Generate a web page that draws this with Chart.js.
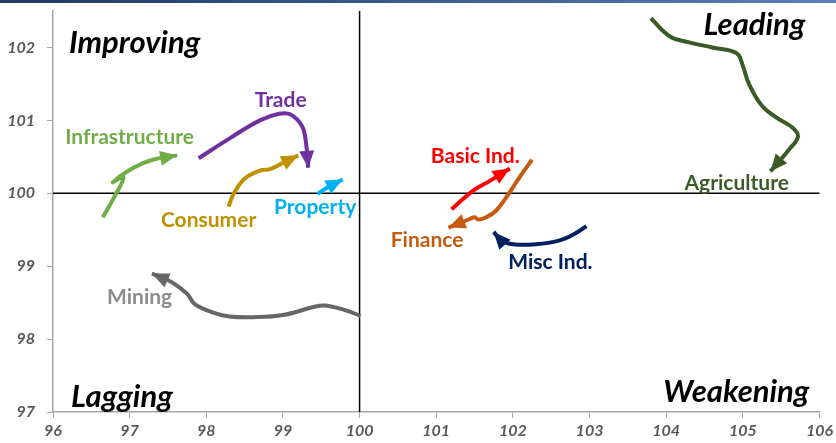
<!DOCTYPE html>
<html>
<head>
<meta charset="utf-8">
<script src="https://cdn.jsdelivr.net/npm/chart.js@4.4.0/dist/chart.umd.min.js"></script>
<style>
  html, body { margin: 0; padding: 0; background: #fff; }
  #wrap { width: 836px; height: 443px; position: relative; }
</style>
</head>
<body>
<div id="wrap"><canvas id="rrgChart"></canvas></div>
<script>
// sector names and colours
var sectors = ["Infrastructure", "Trade", "Consumer", "Property", "Basic Ind.", "Finance", "Misc Ind.", "Agriculture", "Mining"];
var sector_colors = ["#70AD47", "#7030A0", "#BF9000", "#00B0F0", "#FF0000", "#C55A11", "#002060", "#3B5B26", "#666666"];
var label_colors = ["#70AD47", "#7030A0", "#BF9000", "#00B0F0", "#FF0000", "#C55A11", "#002060", "#3B5B26", "#8C8C8C"];

// x = relative strength, y = momentum (tail -> head)
var infra_x = [96.65, 96.8, 96.92, 96.78, 97.05, 97.3, 97.62];
var infra_y = [99.67, 99.95, 100.22, 100.15, 100.35, 100.46, 100.52];
var trade_x = [97.9, 98.3, 98.7, 98.95, 99.1, 99.25, 99.3, 99.33];
var trade_y = [100.48, 100.75, 101.0, 101.09, 101.08, 100.92, 100.7, 100.35];
var consumer_x = [98.29, 98.36, 98.5, 98.7, 98.83, 98.97, 99.2];
var consumer_y = [99.82, 100.0, 100.2, 100.31, 100.33, 100.4, 100.52];
var property_x = [99.45, 99.58, 99.65, 99.78];
var property_y = [99.99, 100.08, 100.12, 100.19];
var basic_x = [101.2, 101.35, 101.5, 101.7, 101.96];
var basic_y = [99.78, 99.92, 100.05, 100.17, 100.34];
var finance_x = [102.25, 102.1, 101.95, 101.78, 101.63, 101.55, 101.5, 101.4, 101.16];
var finance_y = [100.46, 100.24, 100.0, 99.76, 99.66, 99.64, 99.67, 99.63, 99.53];
var misc_x = [102.96, 102.8, 102.6, 102.3, 102.0, 101.85, 101.75];
var misc_y = [99.55, 99.44, 99.35, 99.3, 99.3, 99.35, 99.47];
var agri_x = [103.8, 104.05, 104.3, 104.6, 104.92, 105.0, 105.08, 105.25, 105.45, 105.65, 105.72, 105.62, 105.36];
var agri_y = [102.4, 102.15, 102.07, 102.0, 101.92, 101.75, 101.5, 101.2, 101.03, 100.9, 100.78, 100.62, 100.3];
var mining_x = [100.01, 99.8, 99.55, 99.4, 99.0, 98.6, 98.3, 98.1, 97.85, 97.75, 97.55, 97.29];
var mining_y = [98.32, 98.4, 98.46, 98.44, 98.33, 98.3, 98.31, 98.36, 98.48, 98.62, 98.78, 98.9];

var all_x = [infra_x, trade_x, consumer_x, property_x, basic_x, finance_x, misc_x, agri_x, mining_x];
var all_y = [infra_y, trade_y, consumer_y, property_y, basic_y, finance_y, misc_y, agri_y, mining_y];

var x_ticks = [96, 97, 98, 99, 100, 101, 102, 103, 104, 105, 106];
var y_ticks = [97, 98, 99, 100, 101, 102];
var quadrants = ["Improving", "Leading", "Lagging", "Weakening"];

// where each sector name sits (data coords)
var label_pos = [[97.0, 100.77], [98.97, 101.28], [98.03, 99.63], [99.42, 99.81], [101.51, 100.51], [100.88, 99.36], [102.49, 99.06], [104.92, 100.14], [97.13, 98.58]];

var FONT = "Lato, 'Open Sans', sans-serif";

function build_points(xs, ys){
  var pts = [];
  for(var i = 0; i < xs.length; i++){
    pts.push({x: xs[i], y: ys[i]});
  }
  return pts;
}

var datasets = [];
for(var s = 0; s < sectors.length; s++){
  datasets.push({
    label: sectors[s],
    data: build_points(all_x[s], all_y[s]),
    showLine: true,
    borderColor: sector_colors[s],
    backgroundColor: sector_colors[s],
    borderWidth: 4,
    borderCapStyle: "butt",
    borderJoinStyle: "round",
    pointRadius: 0,
    pointHoverRadius: 0,
    tension: 0.4
  });
}

var rrgPlugin = {
  id: "rrg",
  beforeDraw: function(chart){
    var ctx = chart.ctx;
    var g = ctx.createLinearGradient(0, 0, chart.width, 0);
    g.addColorStop(0, "#1F3864");
    g.addColorStop(1, "#5B7FB5");
    ctx.save();
    ctx.fillStyle = g;
    ctx.fillRect(0, 0, chart.width, 3);
    ctx.restore();
  },
  beforeDatasetsDraw: function(chart){
    var ctx = chart.ctx;
    var area = chart.chartArea;
    var xs = chart.scales.x, ys = chart.scales.y;
    var cx = xs.getPixelForValue(100);
    var cy = ys.getPixelForValue(100);
    ctx.save();
    ctx.strokeStyle = "#000";
    ctx.lineWidth = 1.5;
    ctx.beginPath();
    ctx.moveTo(cx, area.top);
    ctx.lineTo(cx, area.bottom);
    ctx.moveTo(area.left, cy);
    ctx.lineTo(area.right, cy);
    ctx.stroke();

    ctx.fillStyle = "#000";
    ctx.font = "italic bold 31px " + FONT;
    ctx.textBaseline = "middle";
    ctx.textAlign = "left";
    ctx.fillText(quadrants[0], area.left + 16, area.top + 32);
    ctx.fillText(quadrants[2], area.left + 18, area.bottom - 15);
    ctx.textAlign = "right";
    ctx.fillText(quadrants[1], area.right - 14, area.top + 14);
    ctx.fillText(quadrants[3], area.right - 10, area.bottom - 20);
    ctx.restore();
  },
  afterDatasetsDraw: function(chart){
    var ctx = chart.ctx;
    var xs = chart.scales.x, ys = chart.scales.y;
    ctx.save();
    for(var i = 0; i < chart.data.datasets.length; i++){
      var meta = chart.getDatasetMeta(i);
      var pts = meta.data;
      var tip = pts[pts.length - 1];
      var prev = pts[pts.length - 2];
      var fx = prev.x, fy = prev.y;
      if(tip.cp1x !== undefined && Math.abs(tip.cp1x - tip.x) + Math.abs(tip.cp1y - tip.y) > 2){
        fx = tip.cp1x; fy = tip.cp1y;
      }
      var ang = Math.atan2(tip.y - fy, tip.x - fx);
      var len = 17, half = 7.5;
      var bx = tip.x - len * Math.cos(ang), by = tip.y - len * Math.sin(ang);
      ctx.fillStyle = sector_colors[i];
      ctx.beginPath();
      ctx.moveTo(tip.x, tip.y);
      ctx.lineTo(bx + half * Math.sin(ang), by - half * Math.cos(ang));
      ctx.lineTo(bx - half * Math.sin(ang), by + half * Math.cos(ang));
      ctx.closePath();
      ctx.fill();
    }

    ctx.font = "bold 21px " + FONT;
    ctx.textAlign = "center";
    ctx.textBaseline = "middle";
    for(var j = 0; j < sectors.length; j++){
      ctx.fillStyle = label_colors[j];
      ctx.fillText(sectors[j], xs.getPixelForValue(label_pos[j][0]), ys.getPixelForValue(label_pos[j][1]));
    }
    ctx.restore();
  }
};

var ctx_rrg = document.getElementById("rrgChart").getContext("2d");
var chartRrg = new Chart(ctx_rrg, {
  type: "scatter",
  data: { datasets: datasets },
  plugins: [rrgPlugin],
  options: {
    responsive: true,
    maintainAspectRatio: false,
    animation: false,
    layout: { padding: { top: 11, right: 14, left: 0, bottom: 0 } },
    plugins: {
      legend: { display: false },
      tooltip: { enabled: false },
      title: { display: false }
    },
    scales: {
      x: {
        type: "linear",
        min: 96,
        max: 106,
        afterBuildTicks: function(scale){
          scale.ticks = x_ticks.map(function(v){ return {value: v}; });
        },
        afterFit: function(scale){ scale.height = 31; },
        grid: { drawOnChartArea: false, drawTicks: true, tickLength: 6, color: "#A6A6A6" },
        border: { color: "#A6A6A6", width: 1.5 },
        ticks: {
          color: "#595959",
          padding: 3,
          maxRotation: 0,
          font: { family: FONT, size: 16, weight: "bold", style: "italic" }
        }
      },
      y: {
        type: "linear",
        min: 97,
        max: 102.5,
        afterBuildTicks: function(scale){
          scale.ticks = y_ticks.map(function(v){ return {value: v}; });
        },
        afterFit: function(scale){
          scale.width = 53;
          scale.paddingTop = 0;
          scale.paddingBottom = 0;
        },
        grid: { drawOnChartArea: false, drawTicks: true, tickLength: 6, color: "#A6A6A6" },
        border: { color: "#A6A6A6", width: 1.5 },
        ticks: {
          color: "#595959",
          padding: 12,
          font: { family: FONT, size: 16, weight: "bold", style: "italic" }
        }
      }
    }
  }
});
</script>
</body>
</html>
